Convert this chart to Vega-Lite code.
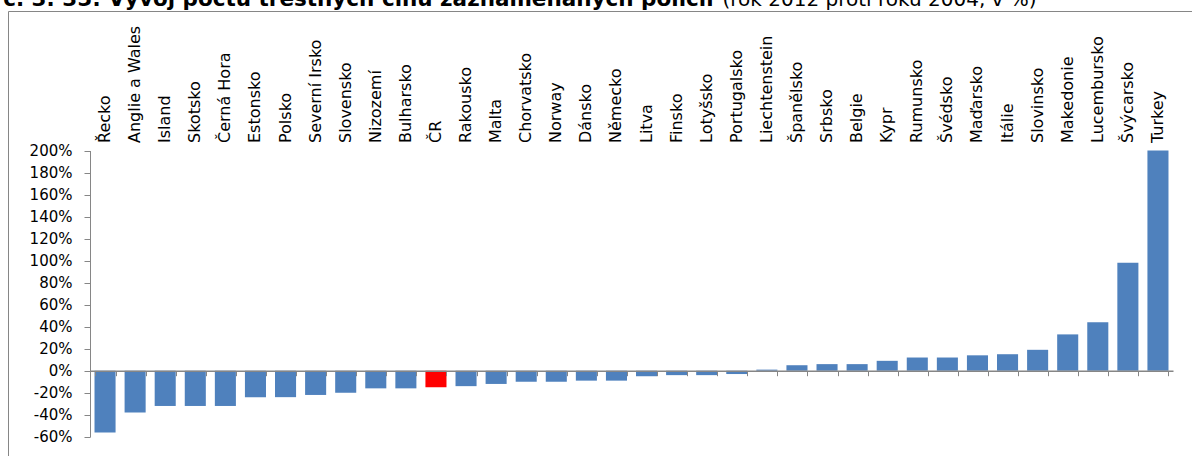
{
  "$schema": "https://vega.github.io/schema/vega-lite/v6.json",
  "autosize": {"type": "none"},
  "padding": {"left": 8, "top": 11, "right": 0, "bottom": 0},
  "width": 1186,
  "height": 447,
  "background": "white",
  "config": {
    "view": {"stroke": "#868686", "strokeWidth": 1},
    "font": "DejaVu Sans"
  },
  "data": {
    "values": [
      {"c": "Řecko", "v": -56},
      {"c": "Anglie a Wales", "v": -38},
      {"c": "Island", "v": -32},
      {"c": "Skotsko", "v": -32},
      {"c": "Černá Hora", "v": -32},
      {"c": "Estonsko", "v": -24},
      {"c": "Polsko", "v": -24},
      {"c": "Severní Irsko", "v": -22},
      {"c": "Slovensko", "v": -20},
      {"c": "Nizozemí", "v": -16},
      {"c": "Bulharsko", "v": -16},
      {"c": "ČR", "v": -15},
      {"c": "Rakousko", "v": -14},
      {"c": "Malta", "v": -12},
      {"c": "Chorvatsko", "v": -10},
      {"c": "Norway", "v": -10},
      {"c": "Dánsko", "v": -9},
      {"c": "Německo", "v": -9},
      {"c": "Litva", "v": -5},
      {"c": "Finsko", "v": -4},
      {"c": "Lotyšsko", "v": -4},
      {"c": "Portugalsko", "v": -3},
      {"c": "Liechtenstein", "v": 1},
      {"c": "Španělsko", "v": 5},
      {"c": "Srbsko", "v": 6},
      {"c": "Belgie", "v": 6},
      {"c": "Kypr", "v": 9},
      {"c": "Rumunsko", "v": 12},
      {"c": "Švédsko", "v": 12},
      {"c": "Maďarsko", "v": 14},
      {"c": "Itálie", "v": 15},
      {"c": "Slovinsko", "v": 19},
      {"c": "Makedonie", "v": 33},
      {"c": "Lucembursko", "v": 44},
      {"c": "Švýcarsko", "v": 98},
      {"c": "Turkey", "v": 200}
    ]
  },
  "encoding": {
    "y": {
      "field": "v",
      "type": "quantitative",
      "scale": {"domain": [-60, 200], "range": [425.8, 139.5], "nice": false, "zero": false},
      "axis": {
        "orient": "left",
        "offset": -82,
        "values": [-60, -40, -20, 0, 20, 40, 60, 80, 100, 120, 140, 160, 180, 200],
        "labelExpr": "datum.value + '%'",
        "title": null,
        "grid": false,
        "tickSize": 6,
        "labelPadding": 12,
        "labelFont": "DejaVu Sans",
        "labelFontSize": 15,
        "labelColor": "#000000",
        "domainColor": "#868686",
        "tickColor": "#868686",
        "labelOverlap": false
      }
    },
    "color": {
      "condition": {"test": "datum.c === 'ČR'", "value": "#FF0000"},
      "value": "#4F81BD"
    }
  },
  "layer": [
    {
      "mark": {"type": "bar"},
      "encoding": {
        "x": {
          "field": "c",
          "type": "nominal",
          "sort": null,
          "scale": {"range": [82, 1165], "paddingInner": 0.3, "paddingOuter": 0.15},
          "axis": {
            "orient": "top",
            "offset": -139.5,
            "domain": false,
            "ticks": false,
            "labelAngle": -90,
            "labelPadding": 8,
            "labelFont": "DejaVu Sans",
            "labelFontSize": 16,
            "labelColor": "#000000",
            "labelLimit": 400,
            "labelOverlap": false,
            "title": "(rok 2012 proti roku 2004, v %)",
            "titleFont": "DejaVu Sans",
            "titleFontSize": 20,
            "titleFontWeight": "normal",
            "titleColor": "#000000",
            "titleAnchor": "start",
            "titleAlign": "left",
            "titleBaseline": "alphabetic",
            "titleX": 714,
            "titleY": -145,
            "titleAngle": 0
          }
        }
      }
    },
    {
      "mark": {"type": "bar", "opacity": 0},
      "encoding": {
        "x": {
          "field": "c",
          "type": "nominal",
          "sort": null,
          "axis": {
            "orient": "bottom",
            "offset": -87.3,
            "labels": false,
            "tickBand": "extent",
            "tickSize": 5,
            "tickColor": "#868686",
            "domainColor": "#868686",
            "domainWidth": 1.5,
            "zindex": 1,
            "title": "Graf č. 3. 35: Vývoj počtu trestných činů zaznamenaných policií",
            "titleFont": "DejaVu Sans",
            "titleFontSize": 21.5,
            "titleFontWeight": "bold",
            "titleColor": "#000000",
            "titleAnchor": "end",
            "titleAlign": "right",
            "titleBaseline": "alphabetic",
            "titleX": 705,
            "titleY": -365.2,
            "titleAngle": 0
          }
        }
      }
    }
  ],
  "resolve": {"axis": {"x": "independent"}}
}
